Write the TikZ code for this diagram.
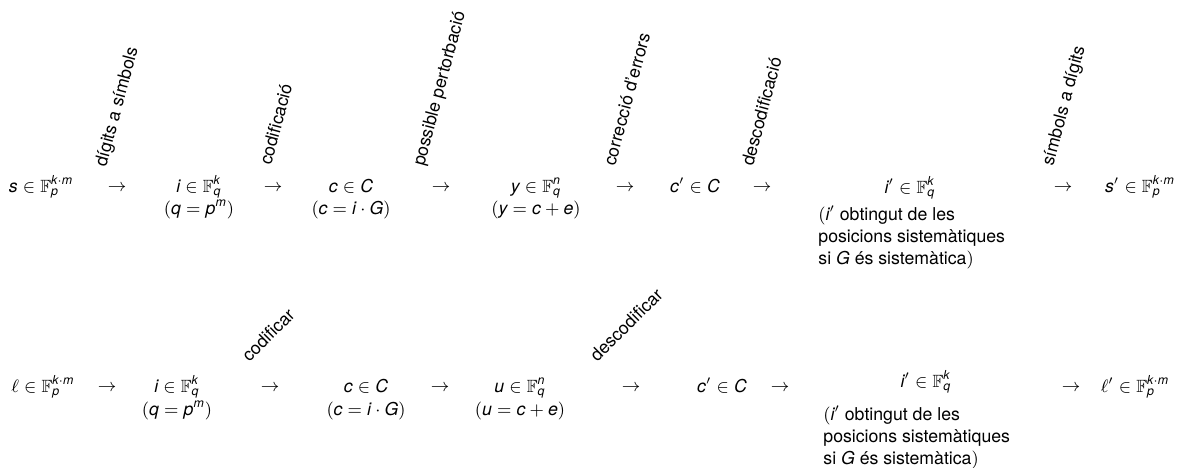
\documentclass[tikz,border=0pt]{standalone}
\usepackage{amsmath,amssymb}
\usepackage{fontspec}
\setmainfont{TeX Gyre Heros}
\newcommand\vi[1]{\text{\itshape #1}}
\begin{document}
\begin{tikzpicture}[x=0.5pt,y=-0.5pt,
  every node/.style={inner sep=0pt, font=\fontsize{8.85}{11}\selectfont},
  term/.style={anchor=base},
  arr/.style={anchor=base},
  lab/.style={anchor=base west, rotate=75},
  labb/.style={anchor=base west, rotate=45},
  blk/.style={anchor=base west}]
\useasboundingbox (0,0) rectangle (1177,467);
% ---- row 1 ----
\node[term] (s)  at (41,192.5)  {$\vi{s}\in\mathbb{F}_{\vi{p}}^{\vi{k}\cdot\vi{m}}$};
\node[arr]  (a1) at (117,191)   {$\rightarrow$};
\node[term] (i)  at (199,192.5) {$\vi{i}\in\mathbb{F}_{\vi{q}}^{\vi{k}}$};
\node[term] (ib) at (199,214.5) {$(\vi{q}=\vi{p}^{\vi{m}})$};
\node[arr]  (a2) at (273,191)   {$\rightarrow$};
\node[term] (c)  at (351,192.5) {$\vi{c}\in\vi{C}$};
\node[term] (cb) at (351,214.5) {$(\vi{c}=\vi{i}\cdot\vi{G})$};
\node[arr]  (a3) at (441,191)   {$\rightarrow$};
\node[term] (y)  at (536,192.5) {$\vi{y}\in\mathbb{F}_{\vi{q}}^{\vi{n}}$};
\node[term] (yb) at (536,214.5) {$(\vi{y}=\vi{c}+\vi{e})$};
\node[arr]  (a4) at (625,191)   {$\rightarrow$};
\node[term] (cp) at (695,192.5) {$\vi{c}'\in\vi{C}$};
\node[arr]  (a5) at (762,191)   {$\rightarrow$};
\node[term] (ip) at (910,193)   {$\vi{i}'\in\mathbb{F}_{\vi{q}}^{\vi{k}}$};
\node[blk]  (ip1) at (818,220)  {$(\vi{i}'$ obtingut de les};
\node[blk]  (ip2) at (818,242)  {posicions sistemàtiques};
\node[blk]  (ip3) at (818,264)  {si $\vi{G}$ és sistemàtica$)$};
\node[arr]  (a6) at (1063,191)  {$\rightarrow$};
\node[term] (sp) at (1140,192.5) {$\vi{s}'\in\mathbb{F}_{\vi{p}}^{\vi{k}\cdot\vi{m}}$};
% labels row 1
\node[lab] (l1) at (106,168) {dígits a símbols};
\node[lab] (l2) at (271,166) {codificació};
\node[lab] (l3) at (424,167) {possible pertorbació};
\node[lab] (l4) at (615,167) {correcció d'errors};
\node[lab] (l5) at (753,167) {descodificació};
\node[lab] (l6) at (1053,167) {símbols a dígits};
% ---- row 2 ----
\node[term] (l)  at (43,392)    {$\ell\in\mathbb{F}_{\vi{p}}^{\vi{k}\cdot\vi{m}}$};
\node[arr]  (b1) at (107,391)   {$\rightarrow$};
\node[term] (j)  at (177,392)   {$\vi{i}\in\mathbb{F}_{\vi{q}}^{\vi{k}}$};
\node[term] (jb) at (177,415.5) {$(\vi{q}=\vi{p}^{\vi{m}})$};
\node[arr]  (b2) at (270,391)   {$\rightarrow$};
\node[term] (d)  at (366,392)   {$\vi{c}\in\vi{C}$};
\node[term] (db) at (366,415.5) {$(\vi{c}=\vi{i}\cdot\vi{G})$};
\node[arr]  (b3) at (440,391)   {$\rightarrow$};
\node[term] (u)  at (520,392)   {$\vi{u}\in\mathbb{F}_{\vi{q}}^{\vi{n}}$};
\node[term] (ub) at (520,415.5) {$(\vi{u}=\vi{c}+\vi{e})$};
\node[arr]  (b4) at (631,391)   {$\rightarrow$};
\node[term] (dp) at (722,392)   {$\vi{c}'\in\vi{C}$};
\node[arr]  (b5) at (780,391)   {$\rightarrow$};
\node[term] (jp) at (926,387)   {$\vi{i}'\in\mathbb{F}_{\vi{q}}^{\vi{k}}$};
\node[blk]  (jp1) at (823,420)  {$(\vi{i}'$ obtingut de les};
\node[blk]  (jp2) at (823,442)  {posicions sistemàtiques};
\node[blk]  (jp3) at (823,464)  {si $\vi{G}$ és sistemàtica$)$};
\node[arr]  (b6) at (1071,391)  {$\rightarrow$};
\node[term] (lp) at (1135,392)  {$\ell'\in\mathbb{F}_{\vi{p}}^{\vi{k}\cdot\vi{m}}$};
% labels row 2
\node[labb] (k1) at (249,363) {codificar};
\node[labb] (k2) at (597,363) {descodificar};
\end{tikzpicture}
\end{document}
